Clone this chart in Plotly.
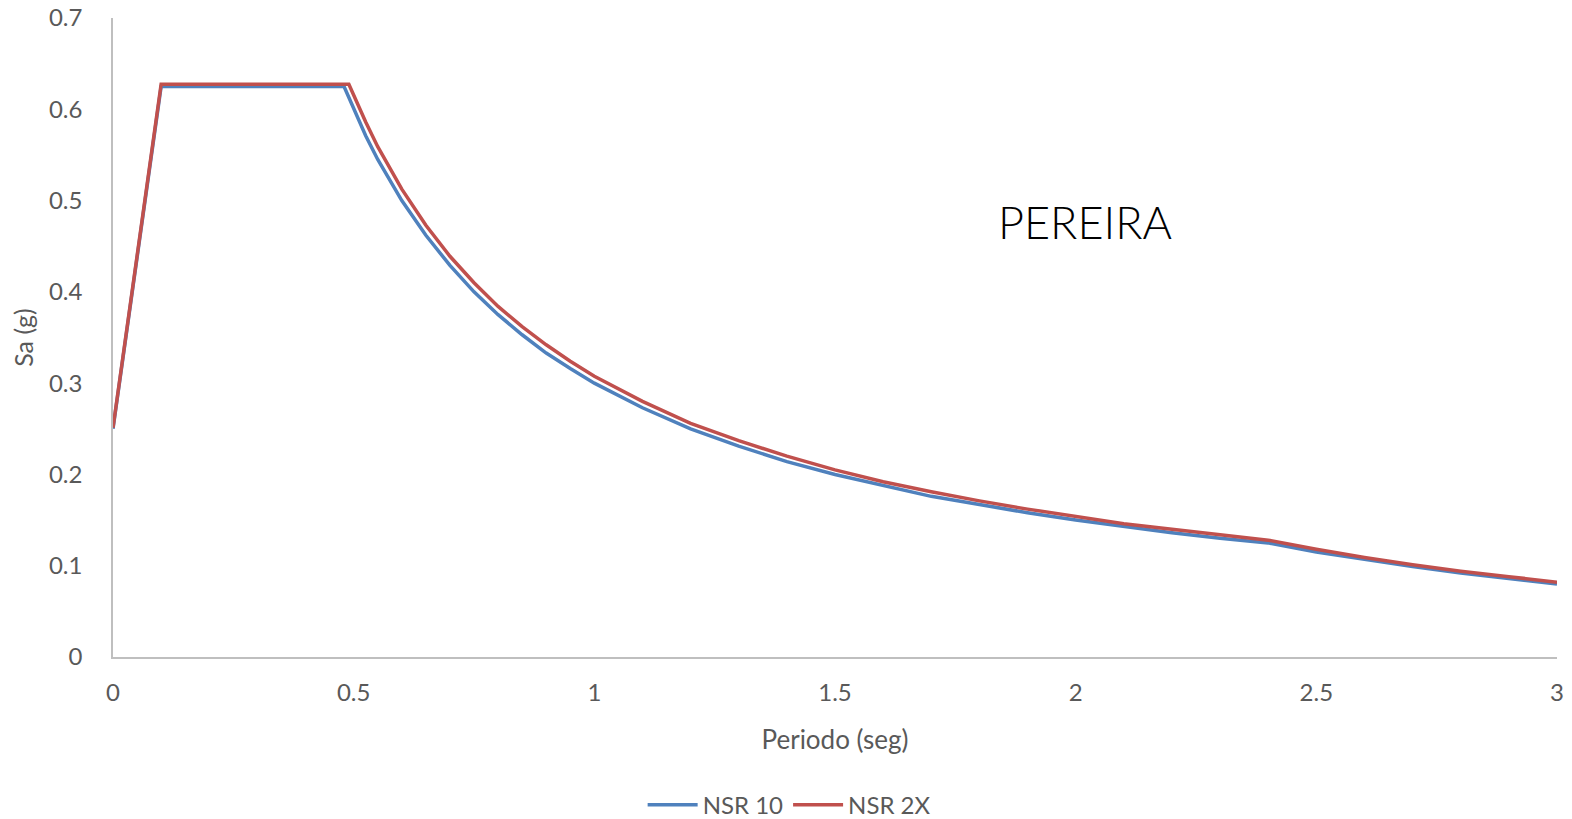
import plotly.graph_objects as go

# Period (s) and spectral acceleration Sa (g)
t_nsr10 = [0, 0.1, 0.48, 0.5, 0.525, 0.55, 0.575, 0.6, 0.65, 0.7, 0.75, 0.8, 0.85, 0.9, 0.95, 1.0,
           1.1, 1.2, 1.3, 1.4, 1.5, 1.6, 1.7, 1.8, 1.9, 2.0, 2.1, 2.2, 2.3, 2.4,
           2.5, 2.6, 2.7, 2.8, 2.9, 3.0]
sa_nsr10 = [0.25, 0.625, 0.625, 0.600, 0.571, 0.545, 0.522, 0.500, 0.462, 0.429, 0.400, 0.375, 0.353,
            0.333, 0.316, 0.300, 0.273, 0.250, 0.231, 0.214, 0.200, 0.188, 0.176,
            0.167, 0.158, 0.150, 0.143, 0.136, 0.130, 0.125,
            0.115, 0.107, 0.099, 0.092, 0.086, 0.080]

t_nsr2x = [0, 0.1, 0.49, 0.5, 0.525, 0.55, 0.575, 0.6, 0.65, 0.7, 0.75, 0.8, 0.85, 0.9, 0.95, 1.0,
           1.1, 1.2, 1.3, 1.4, 1.5, 1.6, 1.7, 1.8, 1.9, 2.0, 2.1, 2.2, 2.3, 2.4,
           2.5, 2.6, 2.7, 2.8, 2.9, 3.0]
sa_nsr2x = [0.251, 0.6275, 0.6275, 0.615, 0.586, 0.559, 0.535, 0.5125, 0.473, 0.439, 0.410, 0.384, 0.362,
            0.342, 0.324, 0.3075, 0.280, 0.256, 0.237, 0.220, 0.205, 0.192, 0.181,
            0.171, 0.162, 0.154, 0.146, 0.140, 0.134, 0.128,
            0.118, 0.109, 0.101, 0.094, 0.088, 0.082]

x_ticks = [0, 0.5, 1, 1.5, 2, 2.5, 3]
x_tick_labels = ["0", "0.5", "1", "1.5", "2", "2.5", "3"]
y_ticks = [0, 0.1, 0.2, 0.3, 0.4, 0.5, 0.6, 0.7]
y_tick_labels = ["0", "0.1", "0.2", "0.3", "0.4", "0.5", "0.6", "0.7"]

FONT = "Lato, 'Open Sans', sans-serif"
GRAY = "#595959"

fig = go.Figure()
fig.add_trace(go.Scatter(x=t_nsr10, y=sa_nsr10, mode="lines", name="NSR 10",
                         line=dict(color="#4F81BD", width=3.5)))
fig.add_trace(go.Scatter(x=t_nsr2x, y=sa_nsr2x, mode="lines", name="NSR 2X",
                         line=dict(color="#C0504D", width=3.5)))

fig.add_annotation(x=2.02, y=0.477, xref="x", yref="y", text="PEREIRA",
                   showarrow=False,
                   font=dict(family="Lato, sans-serif", size=45, color="#000000", weight=300))

fig.update_layout(
    width=1572, height=819,
    margin=dict(l=113, r=15, t=18, b=162, autoexpand=False),
    paper_bgcolor="white", plot_bgcolor="white",
    font=dict(family=FONT, size=24, color=GRAY),
    showlegend=True,
    legend=dict(orientation="h", x=0.502, xanchor="center", xref="container",
                y=0.017, yanchor="middle", yref="container",
                font=dict(family=FONT, size=24, color=GRAY), itemwidth=50,
                tracegroupgap=10),
    xaxis=dict(range=[0, 3], tickvals=x_ticks, ticktext=x_tick_labels, automargin=False,
               showgrid=False, zeroline=False, showline=True, linecolor="#BFBFBF",
               linewidth=1.5, ticks="", ticklabelstandoff=13,
               tickfont=dict(family=FONT, size=24, color=GRAY),
               title=dict(text="Periodo (seg)", standoff=26,
                          font=dict(family=FONT, size=26, color=GRAY))),
    yaxis=dict(range=[0, 0.7], tickvals=y_ticks, ticktext=y_tick_labels, automargin=False,
               showgrid=False, zeroline=False, showline=True, linecolor="#BFBFBF",
               linewidth=1.5, ticks="", ticklabelstandoff=24,
               tickfont=dict(family=FONT, size=24, color=GRAY),
               title=dict(text="Sa (g)", standoff=8,
                          font=dict(family=FONT, size=25, color=GRAY))),
)

fig.write_html("out.html")
